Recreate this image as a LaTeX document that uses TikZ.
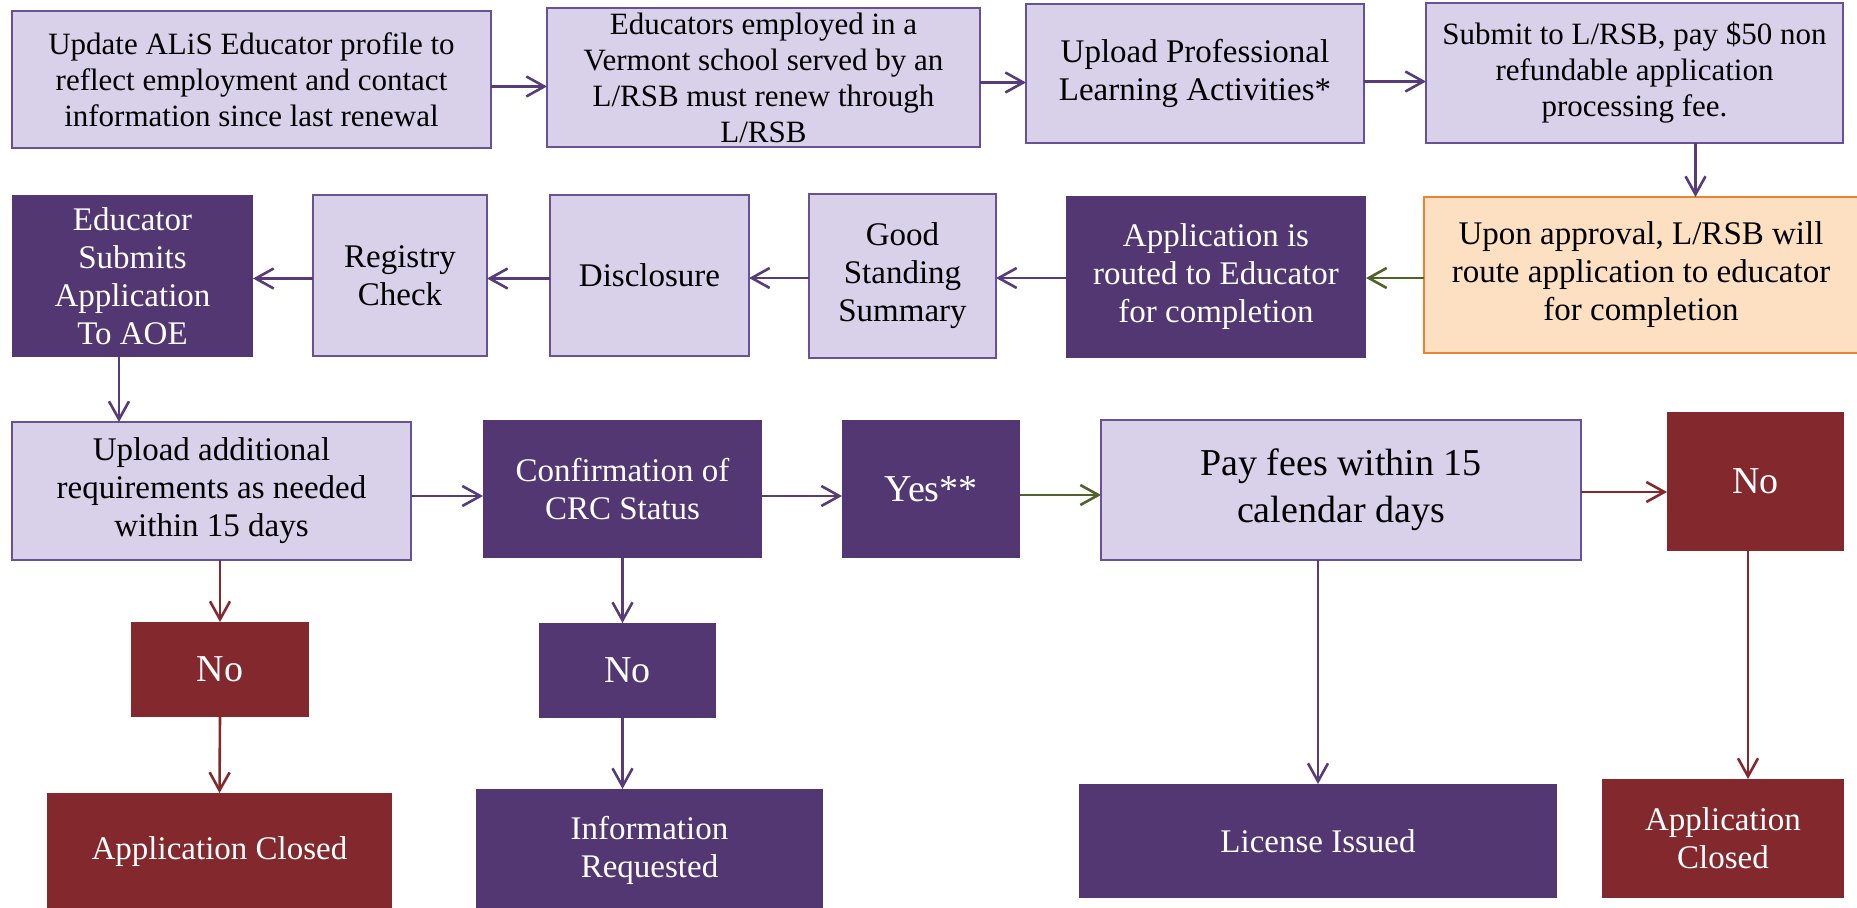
\documentclass[tikz,border=0pt]{standalone}
\usepackage{fontspec}
\setmainfont{Liberation Serif}
\usetikzlibrary{arrows.meta}

\definecolor{lilac}{RGB}{217,208,233}
\definecolor{lilacline}{RGB}{104,82,150}
\definecolor{plum}{RGB}{83,55,114}
\definecolor{wine}{RGB}{131,41,46}
\definecolor{peach}{RGB}{253,224,194}
\definecolor{peachline}{RGB}{237,130,52}
\definecolor{olive}{RGB}{79,98,40}
\definecolor{arrowplum}{RGB}{88,60,122}

\begin{document}
\begin{tikzpicture}[x=0.5pt, y=-0.5pt,
    >={Straight Barb[length=9pt,width=10pt]},
    box/.style={rectangle, align=center, inner sep=2pt, outer sep=0pt, font=\fontsize{15.5}{18}\selectfont},
    lightbox/.style={box, fill=lilac, draw=lilacline, line width=1pt, text=black},
    darkbox/.style={box, fill=plum, text=white},
    redbox/.style={box, fill=wine, text=white},
    orangebox/.style={box, fill=peach, draw=peachline, line width=1pt, text=black},
    big/.style={font=\fontsize{19}{23.5}\selectfont},
    mid/.style={font=\fontsize{16.5}{19}\selectfont},
    arr/.style={->, line width=1.3pt, draw=arrowplum},
    garr/.style={->, line width=1.3pt, draw=olive},
    rarr/.style={->, line width=1.3pt, draw=wine}]
    \useasboundingbox (0,0) rectangle (1857,908);

    % Row 1
    \node[lightbox, minimum width=239.5pt, minimum height=68.5pt] (upd) at (251.5,79.5)
        {Update ALiS Educator profile to\\reflect employment and contact\\information since last renewal};
    \node[lightbox, minimum width=216.5pt, minimum height=69.5pt] (emp) at (763.5,77.5)
        {Educators employed in a\\Vermont school served by an\\L/RSB must renew through\\L/RSB};
    \node[lightbox, mid, minimum width=169pt, minimum height=69.5pt] (pla) at (1195,73.5)
        {Upload Professional\\Learning Activities*};
    \node[lightbox, minimum width=208.5pt, minimum height=70pt] (sub) at (1634.5,73)
        {Submit to L/RSB, pay \$50 non\\refundable application\\processing fee.};

    % Row 2
    \node[orangebox, mid, minimum width=217pt, minimum height=78pt] (apr) at (1641,275)
        {Upon approval, L/RSB will\\route application to educator\\for completion};
    \node[darkbox, mid, minimum width=150pt, minimum height=81pt] (rte) at (1216,277)
        {Application is\\routed to Educator\\for completion};
    \node[lightbox, mid, minimum width=93.5pt, minimum height=82pt] (gss) at (902.5,276)
        {Good\\Standing\\Summary};
    \node[lightbox, mid, minimum width=99.5pt, minimum height=80.5pt] (dis) at (649.5,275.5)
        {Disclosure};
    \node[lightbox, mid, minimum width=87pt, minimum height=80.5pt] (reg) at (400,275.5)
        {Registry\\Check};
    \node[darkbox, mid, minimum width=120.5pt, minimum height=81pt] (eas) at (132.5,276)
        {Educator\\Submits\\Application\\To AOE};

    % Row 3
    \node[lightbox, mid, minimum width=199.5pt, minimum height=69pt] (upl) at (211.5,491)
        {Upload additional\\requirements as needed\\within 15 days};
    \node[darkbox, mid, minimum width=139.5pt, minimum height=69pt] (crc) at (622.5,489)
        {Confirmation of\\CRC Status};
    \node[darkbox, big, minimum width=89pt, minimum height=69pt] (yes) at (931,489)
        {Yes**};
    \node[lightbox, big, minimum width=240pt, minimum height=70pt] (pay) at (1341,490)
        {Pay fees within 15\\calendar days};
    \node[redbox, big, minimum width=88.5pt, minimum height=69.5pt] (no3) at (1755.5,481.5)
        {No};

    % Row 4
    \node[redbox, big, minimum width=89pt, minimum height=47.5pt] (no1) at (220,669.5) {No};
    \node[darkbox, big, minimum width=88.5pt, minimum height=47.5pt] (no2) at (627.5,670.5) {No};
    \node[redbox, mid, minimum width=172.5pt, minimum height=59pt] (cl1) at (219.5,852)
        {Application Closed};
    \node[darkbox, mid, minimum width=173.5pt, minimum height=61pt] (inf) at (649.5,850)
        {Information\\Requested};
    \node[darkbox, mid, minimum width=239pt, minimum height=57pt] (lic) at (1318,841)
        {License Issued};
    \node[redbox, mid, minimum width=121pt, minimum height=59.5pt] (cl2) at (1723,838.5)
        {Application\\Closed};

    % Connectors, row 1
    \draw[arr] ([yshift=-3.5pt]upd.east) -- ([yshift=-3.5pt]upd.east -| emp.west);
    \draw[arr] ([yshift=-2.5pt]emp.east) -- ([yshift=-2.5pt]emp.east -| pla.west);
    \draw[arr] ([yshift=-4pt]pla.east) -- ([yshift=-4pt]pla.east -| sub.west);
    \draw[arr] ([xshift=30.5pt]sub.south) -- ([xshift=30.5pt]sub.south |- apr.north);

    % Connectors, row 2
    \draw[garr] ([yshift=-1.5pt]apr.west) -- ([yshift=-1.5pt]apr.west -| rte.east);
    \draw[arr] ([yshift=-0.5pt]rte.west) -- ([yshift=-0.5pt]rte.west -| gss.east);
    \draw[arr] ([yshift=-1pt]gss.west) -- ([yshift=-1pt]gss.west -| dis.east);
    \draw[arr] ([yshift=-1.5pt]dis.west) -- ([yshift=-1.5pt]dis.west -| reg.east);
    \draw[arr] ([yshift=-1.5pt]reg.west) -- ([yshift=-1.5pt]reg.west -| eas.east);
    \draw[arr] ([xshift=-6.75pt]eas.south) -- ([xshift=-6.75pt]eas.south |- upl.north);

    % Connectors, row 3
    \draw[arr] ([yshift=-2.5pt]upl.east) -- ([yshift=-2.5pt]upl.east -| crc.west);
    \draw[arr] ([yshift=-3.5pt]crc.east) -- ([yshift=-3.5pt]crc.east -| yes.west);
    \draw[garr] ([yshift=-3pt]yes.east) -- ([yshift=-3pt]yes.east -| pay.west);
    \draw[rarr] ([yshift=-1pt]pay.east) -- ([yshift=-1pt]pay.east -| no3.west);

    % Connectors, downwards
    \draw[rarr] (upl.south -| no1.north) -- (no1.north);
    \draw[rarr] (no1.south) -- (cl1.north);
    \draw[arr] (crc.south) -- (crc.south |- no2.north);
    \draw[arr] (no2.south -| crc.south) -- (crc.south |- inf.north);
    \draw[arr] (pay.south -| lic.north) -- (lic.north);
    \draw[rarr] ([xshift=-3.75pt]no3.south) -- ([xshift=-3.75pt]no3.south |- cl2.north);
\end{tikzpicture}
\end{document}
